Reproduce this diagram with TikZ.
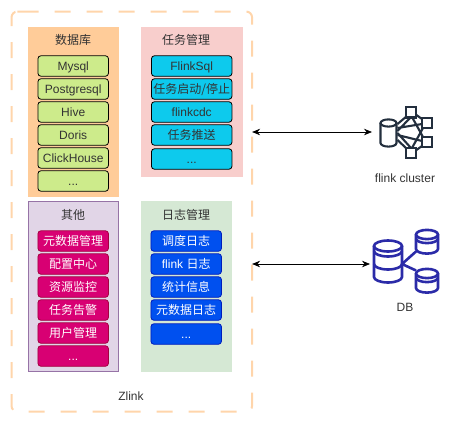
\documentclass[tikz,border=0pt]{standalone}
\usepackage{fontspec}
\setmainfont{Liberation Sans}
\newfontfamily\cjk{Noto Sans CJK SC}
\usetikzlibrary{arrows.meta,calc}
\definecolor{panelorange}{HTML}{FFCC99}
\definecolor{panelpink}{HTML}{F8CECC}
\definecolor{panelpurple}{HTML}{E1D5E7}
\definecolor{edgepurple}{HTML}{9673A6}
\definecolor{panelgreen}{HTML}{D5E8D4}
\definecolor{itemlime}{HTML}{CDEB8B}
\definecolor{itemcyan}{HTML}{0DCAED}
\definecolor{itemmagenta}{HTML}{D80073}
\definecolor{edgemagenta}{HTML}{A50040}
\definecolor{itemblue}{HTML}{0050EF}
\definecolor{edgeblue}{HTML}{001DBC}
\definecolor{dashorange}{HTML}{FFD5AB}
\definecolor{iconslate}{HTML}{232F3E}
\definecolor{icondb}{HTML}{2B2BA8}
\definecolor{txtgray}{HTML}{333333}
\tikzset{
  x=1pt,y=-1pt,
  panel/.style={draw=#1,fill=#1,line width=1pt,anchor=north west,inner sep=0pt},
  item/.style={rounded corners=3pt,line width=.8pt,minimum height=20.5pt,inner sep=0pt,text height=9.5pt,text depth=1.5pt,font=\fontsize{12}{14}\selectfont},
  limebox/.style={item,draw=black,fill=itemlime,minimum width=70.5pt,text=txtgray},
  cyanbox/.style={item,draw=black,fill=itemcyan,minimum width=80.5pt,text=txtgray},
  magentabox/.style={item,draw=edgemagenta,fill=itemmagenta,minimum width=70.5pt,text=white},
  bluebox/.style={item,draw=edgeblue,fill=itemblue,minimum width=70.5pt,text=white},
  headtext/.style={font=\fontsize{12}{14}\selectfont\cjk,text=txtgray,inner sep=0pt,text height=9.5pt,text depth=1.5pt},
  captext/.style={font=\fontsize{12}{14}\selectfont,text=txtgray,inner sep=0pt,text height=9.5pt,text depth=1.5pt},
  biarrow/.style={line width=.8pt,{Stealth[length=8pt,width=6.5pt]}-{Stealth[length=8pt,width=6.5pt]}},
  slate/.style={draw=iconslate,line width=2.1pt},
  dbline/.style={draw=icondb,line width=2.6pt},
}
\begin{document}
\begin{tikzpicture}
\useasboundingbox (0,0) rectangle (449,423);
% outer frame
\node (zlink) [anchor=north west,minimum width=240.2pt,minimum height=399.8pt,inner sep=0pt] at (11.5,11.5) {};
\draw[dashorange,line width=2pt,dash pattern=on 16pt off 16pt,rounded corners=6pt]
  ($(zlink.north west)+(5,0)$) -- (zlink.north east) -- (zlink.south east) -- (zlink.south west) -- (zlink.north west) -- cycle;
% panels
\node[panel=panelorange,minimum width=90pt,minimum height=169pt] (pdb) at (28,27) {};
\node[panel=panelpink,minimum width=101pt,minimum height=149pt] (ptask) at (141,27) {};
\node[panel=panelpurple,draw=edgepurple,line width=.8pt,minimum width=90pt,minimum height=170pt] (pother) at (28,201) {};
\node[panel=panelgreen,minimum width=90pt,minimum height=170pt] (plog) at (141,201) {};
\node[headtext] (hdb) at (73,40.5) {数据库};
\node[headtext] (htask) at (186,40.5) {任务管理};
\node[headtext] (hother) at (73,215.5) {其他};
\node[headtext] (hlog) at (186,215.5) {日志管理};
% database items
\node[limebox] (d1) at (73.2,66) {Mysql};
\node[limebox] (d2) at (73.2,89) {Postgresql};
\node[limebox] (d3) at (73.2,112) {Hive};
\node[limebox] (d4) at (73.2,135) {Doris};
\node[limebox] (d5) at (73.2,158) {ClickHouse};
\node[limebox] (d6) at (73.2,181) {...};
% task items
\node[cyanbox] (t1) at (191.7,66) {FlinkSql};
\node[cyanbox] (t2) at (191.7,89) {\cjk 任务启动/停止};
\node[cyanbox] (t3) at (191.7,112) {flinkcdc};
\node[cyanbox] (t4) at (191.7,135) {\cjk 任务推送};
\node[cyanbox] (t5) at (191.7,159) {...};
% other items
\node[magentabox] (o1) at (73.2,241) {\cjk 元数据管理};
\node[magentabox] (o2) at (73.2,264) {\cjk 配置中心};
\node[magentabox] (o3) at (73.2,287) {\cjk 资源监控};
\node[magentabox] (o4) at (73.2,310) {\cjk 任务告警};
\node[magentabox] (o5) at (73.2,333) {\cjk 用户管理};
\node[magentabox] (o6) at (73.2,356) {...};
% log items
\node[bluebox] (l1) at (186.2,241) {\cjk 调度日志};
\node[bluebox] (l2) at (186.2,264) {flink {\cjk 日志}};
\node[bluebox] (l3) at (186.2,287) {\cjk 统计信息};
\node[bluebox] (l4) at (186.2,310) {\cjk 元数据日志};
\node[bluebox] (l5) at (186.2,334) {...};
\node[captext] (zlabel) at (131,396) {Zlink};
% flink cluster icon
\coordinate (flinkport) at (372,132);
\draw[slate] (380.5,123) -- (380.5,143) arc[start angle=180,end angle=0,x radius=8,y radius=3.6] -- (396.5,123);
\draw[slate] (388.5,123) ellipse[x radius=8,y radius=3.6];
\draw[slate] (397.5,124) -- (407,116) (397.5,128) -- (422,124) (397.5,135) -- (422,141)
  (397.5,140) -- (407,149) (397.5,131) -- (411,117) (397.5,133) -- (411,148) (415,114) -- (422,119) (415,151) -- (422,146)
  (412,117) -- (423,137) (412,148) -- (423,128);
\draw[slate,fill=white] (405.8,107.2) rectangle (415.7,117.5);
\draw[slate,fill=white] (421.8,118) rectangle (431.6,128);
\draw[slate,fill=white] (421.8,136.8) rectangle (431.6,146.6);
\draw[slate,fill=white] (405.8,147.8) rectangle (415.7,157.6);
\node[captext] (flinklabel) at (405,178) {flink cluster};
% DB icon
\coordinate (dbport) at (370,264);
\draw[dbline] (374,246) -- (374,277) arc[start angle=180,end angle=0,x radius=14,y radius=5.5] -- (402,246);
\draw[dbline] (388,246) ellipse[x radius=14,y radius=5.5];
\draw[dbline] (374,251) arc[start angle=180,end angle=0,x radius=14,y radius=5.5];
\draw[dbline] (374,264) arc[start angle=180,end angle=0,x radius=14,y radius=5.5];
\draw[dbline] (402,264) -- (416,251.5) (402,264) -- (416,270.5);
\draw[dbline] (416,234.5) -- (416,249) arc[start angle=180,end angle=0,x radius=11,y radius=4.6] -- (438,234.5);
\draw[dbline] (427,234.5) ellipse[x radius=11,y radius=4.6];
\draw[dbline] (416,238.5) arc[start angle=180,end angle=0,x radius=11,y radius=4.6];
\draw[dbline] (416,273.5) -- (416,288) arc[start angle=180,end angle=0,x radius=11,y radius=4.6] -- (438,273.5);
\draw[dbline] (427,273.5) ellipse[x radius=11,y radius=4.6];
\draw[dbline] (416,277.5) arc[start angle=180,end angle=0,x radius=11,y radius=4.6];
\node[captext] (dblabel) at (405,307) {DB};
% connectors
\draw[biarrow] (zlink.east |- flinkport) -- (flinkport);
\draw[biarrow] (zlink.east |- dbport) -- (dbport);
\end{tikzpicture}
\end{document}
